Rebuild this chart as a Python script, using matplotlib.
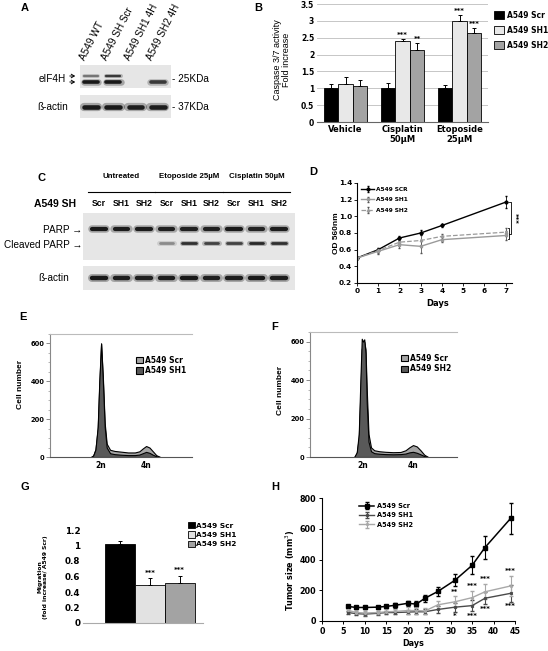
import matplotlib
matplotlib.use('Agg')
import numpy as np
import matplotlib.pyplot as plt

W, H = 548, 651
fig = plt.figure(figsize=(W / 100, H / 100), dpi=100)

ARIAL = ['Liberation Sans', 'DejaVu Sans']
VB = dict(family='DejaVu Sans', weight='bold')

# ---------------- data ----------------
# A: western blot eIF4H
a_lanes = ['A549 WT', 'A549 SH Scr', 'A549 SH1 4H', 'A549 SH2 4H']
a_eif_upper = [0.45, 0.75, 0.0, 0.0]
a_eif_lower = [0.95, 0.95, 0.0, 0.75]
a_actin = [0.95, 0.95, 0.92, 0.92]

# B: caspase 3/7 activity
b_groups = ['Vehicle', 'Cisplatin\n50µM', 'Etoposide\n25µM']
b_series = ['A549 Scr', 'A549 SH1', 'A549 SH2']
b_scr = [1.0, 1.0, 1.0]
b_scr_err = [0.13, 0.16, 0.09]
b_sh1 = [1.14, 2.39, 2.99]
b_sh1_err = [0.18, 0.07, 0.18]
b_sh2 = [1.06, 2.15, 2.64]
b_sh2_err = [0.2, 0.2, 0.15]
b_sh1_stars = ['', '***', '***']
b_sh2_stars = ['', '**', '***']

# C: PARP cleavage blot
c_groups = ['Untreated', 'Etoposide 25µM', 'Cisplatin 50µM']
c_lanes = ['Scr', 'SH1', 'SH2'] * 3
c_parp = [0.95, 0.93, 0.93, 0.9, 0.9, 0.9, 0.95, 0.88, 0.92]
c_cleaved = [0, 0, 0, 0.35, 0.8, 0.7, 0.7, 0.85, 0.8]
c_actin = [0.95, 0.92, 0.9, 0.92, 0.95, 0.9, 0.92, 0.95, 0.92]

# D: proliferation
d_days = [0, 1, 2, 3, 4, 7]
d_scr = [0.5, 0.6, 0.74, 0.8, 0.89, 1.17]
d_scr_err = [0.01, 0.02, 0.02, 0.03, 0.02, 0.07]
d_sh1 = [0.5, 0.58, 0.66, 0.64, 0.72, 0.77]
d_sh1_err = [0.01, 0.03, 0.04, 0.08, 0.03, 0.05]
d_sh2 = [0.5, 0.59, 0.69, 0.71, 0.76, 0.81]
d_sh2_err = [0.01, 0.03, 0.04, 0.08, 0.03, 0.05]

# E: cell cycle Scr vs SH1
e_x = [155, 165, 175, 185, 192, 200, 208, 216, 225, 240, 260, 290, 320, 350, 370, 385, 400, 415, 430, 445, 462]
e_scr = [0, 8, 40, 150, 380, 600, 420, 180, 70, 38, 32, 28, 24, 24, 30, 45, 58, 50, 30, 10, 0]
e_sh1 = [0, 8, 40, 160, 400, 600, 400, 160, 50, 20, 15, 12, 10, 10, 13, 20, 27, 22, 12, 4, 0]

# F: cell cycle Scr vs SH2
f_x = [165, 175, 183, 190, 195, 200, 205, 210, 215, 222, 232, 245, 265, 290, 320, 350, 370, 385, 400, 415, 430, 445, 460]
f_scr = [0, 20, 100, 350, 560, 590, 600, 560, 350, 120, 50, 35, 30, 27, 25, 26, 35, 50, 62, 55, 35, 12, 0]
f_sh2 = [0, 25, 120, 420, 615, 600, 612, 540, 280, 80, 30, 20, 17, 15, 14, 15, 18, 24, 27, 22, 14, 5, 0]

# G: migration
g_series = ['A549 Scr', 'A549 SH1', 'A549 SH2']
g_vals = [1.02, 0.49, 0.515]
g_err = [0.04, 0.09, 0.095]
g_stars = ['', '***', '***']

# H: tumor growth
h_days = [6, 8, 10, 13, 15, 17, 20, 22, 24, 27, 31, 35, 38, 44]
h_scr = [95, 88, 88, 90, 95, 102, 115, 110, 148, 192, 265, 362, 478, 668]
h_scr_err = [8, 8, 10, 10, 12, 15, 18, 22, 22, 30, 40, 58, 75, 100]
h_sh1 = [55, 48, 45, 50, 55, 55, 58, 60, 60, 75, 90, 100, 148, 180]
h_sh1_err = [12, 10, 10, 10, 12, 12, 15, 15, 15, 20, 30, 35, 40, 55]
h_sh2 = [70, 55, 52, 55, 60, 62, 68, 68, 65, 105, 125, 152, 190, 228]
h_sh2_err = [10, 10, 10, 12, 15, 15, 20, 20, 18, 25, 35, 45, 50, 65]
h_stars_up = ['', '', '', '', '', '', '', '', '', '', '**', '***', '***', '***']
h_stars_dn = ['', '', '', '', '', '', '', '', '', '', '*', '***', '***', '***']


def box(x0, y0, x1, y1):
    return fig.add_axes([x0 / W, 1 - y1 / H, (x1 - x0) / W, (y1 - y0) / H])


def ftext(x, y, s, **kw):
    kw.setdefault('ha', 'center')
    kw.setdefault('va', 'center')
    return fig.text(x / W, 1 - y / H, s, **kw)


def farrow(x0, x1, y):
    fig.add_artist(matplotlib.patches.FancyArrowPatch(
        (x0 / W, 1 - y / H), (x1 / W, 1 - y / H), transform=fig.transFigure,
        arrowstyle='->,head_length=2.2,head_width=1.3', lw=0.7, color='black'))


def blot(x0, y0, x1, y1, xlim):
    ax = box(x0, y0, x1, y1)
    ax.set_facecolor('#e6e6e6')
    ax.set_xlim(*xlim)
    ax.set_ylim(0, 1)
    ax.set_xticks([])
    ax.set_yticks([])
    for s in ax.spines.values():
        s.set_visible(False)
    return ax


def bands(ax, y, vals, lw):
    for i, v in enumerate(vals):
        if v <= 0:
            continue
        ax.plot([i - 0.33, i + 0.33], [y, y], color='black', alpha=v * 0.3,
                lw=lw * 1.8, solid_capstyle='round')
        ax.plot([i - 0.31, i + 0.31], [y, y], color='#111111', alpha=v,
                lw=lw, solid_capstyle='round')


def letter(x, y, s):
    ftext(x, y, s, family=ARIAL, weight='bold', fontsize=8)


# ---------------- A ----------------
letter(25, 8, 'A')
axA1 = blot(80, 65, 171, 88, (-0.5, 3.6))
bands(axA1, 0.52, a_eif_upper, 1.6)
bands(axA1, 0.26, a_eif_lower, 2.6)
axA2 = blot(80, 95, 171, 118, (-0.5, 3.6))
bands(axA2, 0.48, a_actin, 3.3)
for i, lab in enumerate(a_lanes):
    axA1.annotate(lab, xy=(i, 1), xycoords=('data', 'axes fraction'),
                  xytext=(-3, 2), textcoords='offset points', rotation=63,
                  ha='left', va='bottom', rotation_mode='anchor',
                  family=ARIAL, fontsize=7.2)
ftext(66, 79, 'eIF4H', ha='right', family=ARIAL, fontsize=7.2)
farrow(67, 78, 76)
farrow(67, 78, 82)
ftext(53, 107, 'ß-actin', family=ARIAL, fontsize=7.2)
ftext(172, 79, '- 25KDa', ha='left', family=ARIAL, fontsize=7.2)
ftext(172, 107, '- 37KDa', ha='left', family=ARIAL, fontsize=7.2)

# ---------------- B ----------------
letter(258, 8, 'B')
axB = box(317, 4, 488, 122)
x = np.arange(len(b_groups))
w = 0.26
cols = ['black', '#e8e8e8', '#a3a3a3']
handles = []
for k, (vals, errs) in enumerate([(b_scr, b_scr_err), (b_sh1, b_sh1_err), (b_sh2, b_sh2_err)]):
    xs = x + (k - 1) * w
    bc = axB.bar(xs, vals, w * 0.95, color=cols[k], edgecolor='black', lw=0.6, zorder=2)
    handles.append(bc)
    axB.errorbar(xs, vals, yerr=[np.zeros(len(vals)), errs], fmt='none',
                 ecolor='black', elinewidth=0.7, capsize=1.3, capthick=0.7, zorder=3)
for vals, errs, stars, k in [(b_sh1, b_sh1_err, b_sh1_stars, 0), (b_sh2, b_sh2_err, b_sh2_stars, 1)]:
    for i in range(len(vals)):
        if stars[i]:
            axB.text(x[i] + k * w, vals[i] + errs[i] + 0.02, stars[i], ha='center',
                     va='bottom', fontsize=5, **VB)
axB.set_xlim(-0.5, 2.5)
axB.set_ylim(0, 3.5)
axB.set_yticks(np.arange(0, 3.51, 0.5))
axB.set_yticklabels([f'{v:g}' for v in np.arange(0, 3.51, 0.5)], fontsize=5.5, **VB)
axB.set_xticks(x)
axB.set_xticklabels(b_groups, fontsize=6, **VB)
axB.tick_params(length=0, pad=2)
axB.grid(axis='y', color='#bdbdbd', lw=0.6)
axB.set_axisbelow(True)
for s in ['left', 'top', 'right']:
    axB.spines[s].set_visible(False)
axB.spines['bottom'].set_color('#666666')
axB.legend(handles, b_series, loc='upper left', bbox_to_anchor=(1.02, 0.97),
           frameon=False, prop=dict(size=5.5, **VB), handlelength=1.2,
           handleheight=1.3, labelspacing=0.8, handletextpad=0.4, borderaxespad=0)
ftext(282, 60, 'Caspase 3/7 activity\nFold increase', rotation=90, family=ARIAL,
      fontsize=6.5, linespacing=1.1)

# ---------------- C ----------------
letter(41, 178, 'C')
cxl = (-0.71, 8.71)
axCh = box(83, 170, 295, 210)
axCh.set_xlim(*cxl)
axCh.set_ylim(0, 1)
axCh.axis('off')
for g, name in enumerate(c_groups):
    axCh.text(3 * g + 1, 0.83, name, ha='center', va='center', fontsize=5.7,
              family=ARIAL, weight='bold')
    axCh.plot([3 * g - 0.5, 3 * g + 2.5], [0.45, 0.45], color='black', lw=0.8)
for i, lab in enumerate(c_lanes):
    axCh.text(i, 0.17, lab, ha='center', va='center', fontsize=6.2,
              family=ARIAL, weight='bold')
ftext(55, 204, 'A549 SH', family=ARIAL, weight='bold', fontsize=7.5)
axC1 = blot(83, 213, 295, 260, cxl)
bands(axC1, 0.66, c_parp, 3.0)
bands(axC1, 0.36, c_cleaved, 2.0)
axC2 = blot(83, 266, 295, 290, cxl)
bands(axC2, 0.5, c_actin, 3.2)
ftext(82, 230, 'PARP →', ha='right', family=ARIAL, fontsize=7.2)
ftext(82, 245, 'Cleaved PARP →', ha='right', family=ARIAL, fontsize=7.2)
ftext(54, 278, 'ß-actin', family=ARIAL, fontsize=7.2)

# ---------------- D ----------------
letter(313, 172, 'D')
axD = box(357, 183, 512, 283)
axD.errorbar(d_days, d_scr, yerr=d_scr_err, color='black', lw=1, marker='D', ms=1.8,
             capsize=1, elinewidth=0.6, label='A549 SCR')
axD.errorbar(d_days, d_sh1, yerr=d_sh1_err, color='#9a9a9a', lw=1, marker='s', ms=2,
             capsize=1, elinewidth=0.6, ecolor='#555555', label='A549 SH1')
axD.errorbar(d_days, d_sh2, yerr=d_sh2_err, color='#9a9a9a', lw=0.9, ls='--', marker='^',
             ms=1.8, capsize=1, elinewidth=0.6, ecolor='#555555', label='A549 SH2')
axD.set_xlim(0, 7.3)
axD.set_ylim(0.2, 1.4)
axD.set_xticks(range(8))
axD.set_xticklabels([str(v) for v in range(8)], fontsize=5.3, **VB)
yt = np.arange(0.2, 1.41, 0.2)
axD.set_yticks(yt)
axD.set_yticklabels([f'{v:.1f}' for v in yt], fontsize=5.3, **VB)
axD.tick_params(length=2, width=0.6, pad=1.5)
for s in ['top', 'right']:
    axD.spines[s].set_visible(False)
# significance bracket at day 7
top = d_scr[-1]
mid = (d_sh1[-1] + d_sh2[-1]) / 2
bx = d_days[-1] + 0.15
axD.plot([bx, bx + 0.12, bx + 0.12, bx], [top, top, mid, mid], color='black', lw=0.6, clip_on=False)
axD.plot([bx - 0.05, bx, bx, bx - 0.05], [d_sh2[-1] + 0.05, d_sh2[-1] + 0.05,
         d_sh1[-1] - 0.04, d_sh1[-1] - 0.04], color='black', lw=0.6, clip_on=False)
axD.text(bx + 0.3, (top + mid) / 2, '***', rotation=270, ha='center', va='center',
         fontsize=5, **VB)
axD.legend(loc='upper left', frameon=False, prop=dict(size=4.2, **VB), handlelength=2.2,
           labelspacing=0.9, borderaxespad=0.3, handletextpad=0.3)
ftext(336, 233, 'OD 560nm', rotation=90, family=ARIAL, weight='bold', fontsize=6)
ftext(438, 304, 'Days', fontsize=6, **VB)


# ---------------- E / F ----------------
def cycle(ax, xs, scr, sh, lab_sh, xlim):
    f1 = ax.fill_between(xs, scr, color='#a5a5a5', edgecolor='black', lw=0.8, label='A549 Scr')
    f2 = ax.fill_between(xs, sh, color='#595959', edgecolor='black', lw=0.8, label=lab_sh)
    ax.set_xlim(*xlim)
    ax.set_ylim(0, 650)
    ax.set_yticks([0, 200, 400, 600])
    ax.set_yticklabels(['0', '200', '400', '600'], fontsize=4.8, **VB)
    ax.set_yticks(np.arange(0, 651, 50), minor=True)
    ax.set_xticks([200, 400])
    ax.set_xticklabels(['2n', '4n'], fontsize=5.5, **VB)
    ax.tick_params(axis='x', length=0, pad=3)
    ax.tick_params(axis='y', which='major', length=3, width=0.6, color='#777777', pad=1)
    ax.tick_params(axis='y', which='minor', length=1.5, width=0.5, color='#999999')
    ax.spines['right'].set_visible(False)
    ax.spines['top'].set_color('#bbbbbb')
    ax.spines['left'].set_color('#888888')
    ax.spines['bottom'].set_color('#555555')
    ax.legend(handles=[f1, f2], loc='upper right', bbox_to_anchor=(0.98, 0.85), frameon=False,
              prop=dict(size=5.5, **VB), handlelength=0.9, handleheight=0.9,
              labelspacing=0.2, handletextpad=0.2, borderaxespad=0)


letter(23, 317, 'E')
axE = box(50, 334, 192, 457)
cycle(axE, e_x, e_scr, e_sh1, 'A549 SH1', (-27, 604))
ftext(20, 384, 'Cell number', rotation=90, family=ARIAL, weight='bold', fontsize=6)

letter(275, 327, 'F')
axF = box(310, 332, 457, 457)
cycle(axF, f_x, f_scr, f_sh2, 'A549 SH2', (-12, 576))
ftext(280, 390, 'Cell number', rotation=90, family=ARIAL, weight='bold', fontsize=6)

# ---------------- G ----------------
letter(25, 487, 'G')
axG = box(83, 530, 203, 623)
gx = np.arange(len(g_series))
gcols = ['black', '#e2e2e2', '#a3a3a3']
gb = axG.bar(gx, g_vals, 1.0, color=gcols, edgecolor='black', lw=0.6, zorder=2)
axG.errorbar(gx, g_vals, yerr=[np.zeros(3), g_err], fmt='none', ecolor='black',
             elinewidth=0.7, capsize=1.3, capthick=0.7, zorder=3, clip_on=False)
for i in range(3):
    if g_stars[i]:
        axG.text(gx[i], g_vals[i] + g_err[i] + 0.03, g_stars[i], ha='center', va='bottom',
                 fontsize=5, **VB)
axG.set_xlim(-1.25, 2.78)
axG.set_ylim(0, 1.2)
gt = np.arange(0, 1.21, 0.2)
axG.set_yticks(gt)
axG.set_yticklabels([f'{v:g}' for v in np.round(gt, 1)], fontsize=6.3, **VB)
axG.set_xticks([])
axG.tick_params(length=0, pad=2)
for s in ['left', 'top', 'right']:
    axG.spines[s].set_visible(False)
axG.spines['bottom'].set_color('#aaaaaa')
axG.legend(gb.patches, g_series, loc='upper left', bbox_to_anchor=(0.85, 1.12), frameon=False,
           prop=dict(size=5.3, **VB), handlelength=0.9, handleheight=1.0,
           labelspacing=0.35, handletextpad=0.2, borderaxespad=0)
ftext(43, 577, 'Migration\n(fold increase/ A549 Scr)', rotation=90, fontsize=4.3,
      linespacing=1.1, **VB)

# ---------------- H ----------------
letter(275, 487, 'H')
axH = box(322, 498, 515, 621)
axH.errorbar(h_days, h_scr, yerr=h_scr_err, color='black', lw=1.1, marker='s', ms=2.2,
             capsize=1.3, elinewidth=0.8, label='A549 Scr')
axH.errorbar(h_days, h_sh1, yerr=h_sh1_err, color='#4a4a4a', lw=1, marker='x', ms=1.8,
             capsize=1.3, elinewidth=0.8, label='A549 SH1')
axH.errorbar(h_days, h_sh2, yerr=h_sh2_err, color='#a8a8a8', lw=1, marker='o', ms=1.3,
             capsize=1.3, elinewidth=0.8, label='A549 SH2')
for i, d in enumerate(h_days):
    if h_stars_up[i]:
        axH.text(d, h_sh2[i] + h_sh2_err[i] + 12, h_stars_up[i], ha='center', va='bottom',
                 fontsize=5, **VB)
    if h_stars_dn[i]:
        axH.text(d, h_sh1[i] - h_sh1_err[i] - 10, h_stars_dn[i], ha='center', va='top',
                 fontsize=5, **VB)
axH.set_xlim(0, 45)
axH.set_ylim(0, 800)
axH.set_xticks(range(0, 46, 5))
axH.set_xticklabels([str(v) for v in range(0, 46, 5)], fontsize=5.8, **VB)
axH.set_yticks(range(0, 801, 200))
axH.set_yticklabels([str(v) for v in range(0, 801, 200)], fontsize=5.8, **VB)
axH.tick_params(length=2.5, width=0.7, pad=1.5)
for s in ['top', 'right']:
    axH.spines[s].set_visible(False)
axH.legend(loc='upper left', bbox_to_anchor=(0.18, 0.98), frameon=False,
           prop=dict(size=4.8, **VB), handlelength=2.2, labelspacing=0.5, handletextpad=0.4,
           borderaxespad=0)
ftext(290, 570, 'Tumor size (mm$^3$)', rotation=90, fontsize=5.8, **VB)
ftext(413, 643, 'Days', fontsize=5.8, **VB)

fig.savefig('out.png', dpi=100, facecolor='white')
